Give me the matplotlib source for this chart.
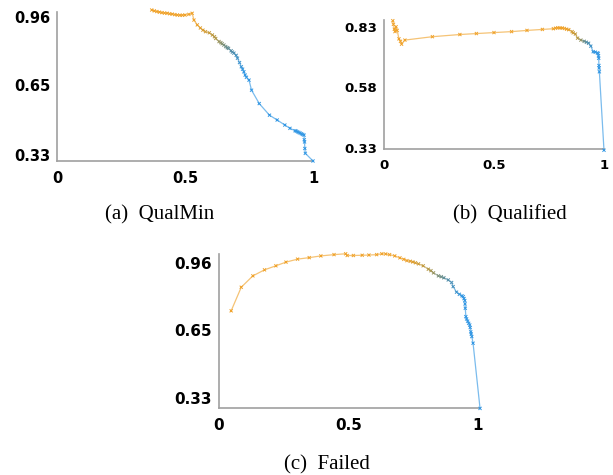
import numpy as np
import matplotlib.pyplot as plt
from matplotlib.collections import LineCollection
from matplotlib.colors import LinearSegmentedColormap

# (a) QualMin
qualmin_recall = [0.37, 0.38, 0.39, 0.40, 0.41, 0.42, 0.43, 0.44, 0.45, 0.46, 0.47, 0.48, 0.49,
                  0.50, 0.515, 0.528, 0.535, 0.548, 0.56, 0.57, 0.58, 0.595, 0.607, 0.615,
                  0.62, 0.633, 0.64, 0.645, 0.652, 0.659, 0.665, 0.67, 0.68, 0.685, 0.691,
                  0.70, 0.705, 0.713, 0.72, 0.725, 0.73, 0.735, 0.74, 0.75, 0.76, 0.79, 0.83,
                  0.86, 0.89, 0.91, 0.93, 0.935, 0.94, 0.945, 0.95, 0.955, 0.96, 0.965,
                  0.966, 0.967, 0.968, 0.97, 1.0]
qualmin_precision = [0.992, 0.988, 0.985, 0.982, 0.98, 0.978, 0.977, 0.975, 0.973, 0.971,
                     0.969, 0.968, 0.968, 0.969, 0.972, 0.977, 0.946, 0.924, 0.91, 0.90,
                     0.893, 0.888, 0.878, 0.87, 0.862, 0.848, 0.843, 0.838, 0.832, 0.825,
                     0.82, 0.817, 0.806, 0.80, 0.795, 0.785, 0.772, 0.752, 0.733, 0.722,
                     0.71, 0.695, 0.685, 0.672, 0.626, 0.565, 0.512, 0.49, 0.467, 0.452,
                     0.441, 0.439, 0.436, 0.433, 0.43, 0.427, 0.424, 0.421, 0.40, 0.39,
                     0.36, 0.338, 0.303]

# (b) Qualified
qualified_recall = [0.04, 0.043, 0.047, 0.05, 0.055, 0.06, 0.068, 0.075, 0.08, 0.095, 0.22,
                    0.345, 0.42, 0.5, 0.58, 0.65, 0.72, 0.77, 0.78, 0.79, 0.80, 0.81, 0.82,
                    0.83, 0.84, 0.855, 0.86, 0.87, 0.88, 0.895, 0.91, 0.92, 0.93, 0.94,
                    0.951, 0.96, 0.97, 0.974, 0.975, 0.976, 0.977, 0.978, 0.979, 1.0]
qualified_precision = [0.855, 0.84, 0.82, 0.81, 0.83, 0.815, 0.78, 0.77, 0.758, 0.775, 0.789,
                       0.798, 0.802, 0.806, 0.81, 0.815, 0.819, 0.822, 0.824, 0.826, 0.825,
                       0.825, 0.823, 0.82, 0.818, 0.81, 0.805, 0.80, 0.783, 0.775, 0.77,
                       0.766, 0.762, 0.75, 0.727, 0.725, 0.722, 0.72, 0.71, 0.70, 0.67,
                       0.66, 0.644, 0.32]

# (c) Failed
failed_recall = [0.047, 0.086, 0.131, 0.176, 0.22, 0.259, 0.304, 0.349, 0.394, 0.445, 0.49,
                 0.496, 0.52, 0.554, 0.58, 0.61, 0.63, 0.645, 0.66, 0.68, 0.70, 0.715, 0.727,
                 0.74, 0.75, 0.76, 0.772, 0.79, 0.81, 0.82, 0.83, 0.849, 0.86, 0.87, 0.887,
                 0.9, 0.906, 0.919, 0.93, 0.94, 0.945, 0.948, 0.951, 0.952, 0.953, 0.955,
                 0.958, 0.962, 0.966, 0.97, 0.972, 0.974, 0.976, 0.978, 0.983, 1.01]
failed_precision = [0.738, 0.848, 0.901, 0.929, 0.948, 0.965, 0.979, 0.986, 0.994, 1.0, 1.004,
                    0.996, 0.996, 0.997, 0.998, 1.0, 1.004, 1.003, 1.0, 0.994, 0.985, 0.978,
                    0.972, 0.969, 0.966, 0.962, 0.957, 0.948, 0.932, 0.925, 0.915, 0.901,
                    0.897, 0.892, 0.882, 0.87, 0.851, 0.825, 0.815, 0.808, 0.804, 0.795,
                    0.786, 0.77, 0.75, 0.711, 0.70, 0.69, 0.68, 0.672, 0.66, 0.64, 0.63,
                    0.618, 0.587, 0.283]

x_ticks = [0, 0.5, 1]
x_labels = ["0", "0.5", "1"]

cmap = LinearSegmentedColormap.from_list(
    "pr", [(0, "#f0a32c"), (0.4, "#b99a45"), (0.7, "#5d8e9c"), (1, "#3498e4")])


def draw_curve(ax, recall, precision, fade, xlim, ylim, yticks, fs):
    r = np.array(recall)
    p = np.array(precision)
    t = np.clip((r - fade[0]) / (fade[1] - fade[0]), 0, 1)
    colors = cmap(t)
    pts = np.column_stack([r, p]).reshape(-1, 1, 2)
    segs = np.concatenate([pts[:-1], pts[1:]], axis=1)
    seg_col = colors[1:].copy()
    seg_col[:, 3] = 0.65
    lc = LineCollection(segs, colors=seg_col, linewidths=0.9, clip_on=False)
    ax.add_collection(lc)
    ax.scatter(r, p, c=colors, marker="x", s=5, linewidths=0.7, clip_on=False, zorder=3)

    ax.set_xlim(*xlim)
    ax.set_ylim(*ylim)
    ax.set_xticks(x_ticks)
    ax.set_xticklabels(x_labels)
    ax.set_yticks(yticks)
    ax.set_yticklabels([f"{v:.2f}" for v in yticks])
    for s in ["top", "right"]:
        ax.spines[s].set_visible(False)
    for s in ["left", "bottom"]:
        ax.spines[s].set_color("#a0a0a0")
        ax.spines[s].set_linewidth(1.2)
    ax.tick_params(length=0, labelsize=fs)
    ax.tick_params(axis="y", pad=5)
    ax.tick_params(axis="x", pad=7)
    for lab in ax.get_xticklabels() + ax.get_yticklabels():
        lab.set_fontweight("bold")


fig = plt.figure(figsize=(6.13, 4.75), dpi=100)

ax_a = fig.add_axes([0.0930, 0.6611, 0.4176, 0.3137])
draw_curve(ax_a, qualmin_recall, qualmin_precision, (0.54, 0.73),
           (0, 1.0), (0.303, 0.983), [0.33, 0.65, 0.96], 10.5)

ax_b = fig.add_axes([0.6264, 0.6863, 0.3589, 0.2716])
draw_curve(ax_b, qualified_recall, qualified_precision, (0.83, 0.955),
           (0, 1.0), (0.325, 0.858), [0.33, 0.58, 0.83], 9.5)

ax_c = fig.add_axes([0.3573, 0.1411, 0.4258, 0.3242])
draw_curve(ax_c, failed_recall, failed_precision, (0.72, 0.94),
           (0, 1.01), (0.285, 1.003), [0.33, 0.65, 0.96], 11)

cap = dict(fontsize=15, family="Liberation Serif", ha="center", va="center")
fig.text(160 / 613, 1 - 215 / 475, "(a)  QualMin", **cap)
fig.text(510 / 613, 1 - 215 / 475, "(b)  Qualified", **cap)
fig.text(327 / 613, 1 - 465 / 475, "(c)  Failed", **cap)

fig.savefig("out.png", dpi=100)
